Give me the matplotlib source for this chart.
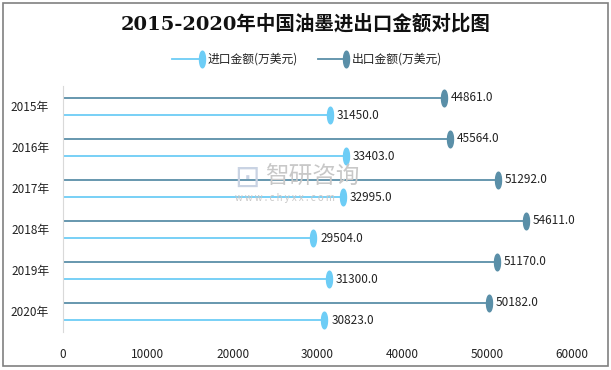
import numpy as np
import matplotlib
matplotlib.use("Agg")
import matplotlib.pyplot as plt
from matplotlib.path import Path
from matplotlib.patches import Rectangle

plt.rcParams['font.family'] = ['Noto Sans CJK SC', 'DejaVu Sans']

years = ['2015年', '2016年', '2017年', '2018年', '2019年', '2020年']
export_vals = [44861.0, 45564.0, 51292.0, 54611.0, 51170.0, 50182.0]
import_vals = [31450.0, 33403.0, 32995.0, 29504.0, 31300.0, 30823.0]

c_import = '#6dcdf6'
c_export = '#5a8fa8'

# vertical ellipse marker
t = np.linspace(0, 2 * np.pi, 40)
ellipse = Path(np.column_stack([0.36 * np.cos(t), np.sin(t)]), closed=True)

fig = plt.figure(figsize=(6.11, 3.70), dpi=100)
ax = fig.add_axes([63 / 611, 1 - 331.5 / 370, (572 - 63) / 611, (331.5 - 85.5) / 370])

y = np.arange(len(years))
y_exp = y - 0.2
y_imp = y + 0.22

for yi, v in zip(y_exp, export_vals):
    ax.plot([0, v], [yi, yi], color=c_export, lw=1.3, zorder=2)
    ax.plot(v, yi, marker=ellipse, ms=12, color=c_export, zorder=3)
    ax.text(v + 800, yi, f'{v:.1f}', va='center', ha='left', fontsize=8.5, color='#222222')
for yi, v in zip(y_imp, import_vals):
    ax.plot([0, v], [yi, yi], color=c_import, lw=1.3, zorder=2)
    ax.plot(v, yi, marker=ellipse, ms=12, color=c_import, zorder=3)
    ax.text(v + 800, yi, f'{v:.1f}', va='center', ha='left', fontsize=8.5, color='#222222')

ax.set_xlim(0, 60000)
ax.set_ylim(5.5, -0.5)
ax.set_xticks(np.arange(0, 60001, 10000))
ax.set_yticks(y)
ax.set_yticklabels(years)
ax.tick_params(axis='both', length=0, labelsize=8.5, colors='#222222')
ax.tick_params(axis='x', pad=12)
ax.tick_params(axis='y', pad=10)
for s in ['top', 'right', 'bottom']:
    ax.spines[s].set_visible(False)
ax.spines['left'].set_color('#d9d9d9')

# legend
lx = 172 / 611
ly = 1 - 59 / 370
fig.lines.append(plt.Line2D([lx, lx + 30 / 611], [ly, ly], color=c_import, lw=1.3, transform=fig.transFigure))
fig.lines.append(plt.Line2D([lx + 30 / 611], [ly], marker=ellipse, ms=12, color=c_import, transform=fig.transFigure))
fig.text(lx + 36 / 611, ly, '进口金额(万美元)', fontsize=8.5, va='center', color='#222222')
lx2 = 318 / 611
fig.lines.append(plt.Line2D([lx2, lx2 + 28 / 611], [ly, ly], color=c_export, lw=1.3, transform=fig.transFigure))
fig.lines.append(plt.Line2D([lx2 + 28 / 611], [ly], marker=ellipse, ms=12, color=c_export, transform=fig.transFigure))
fig.text(lx2 + 34 / 611, ly, '出口金额(万美元)', fontsize=8.5, va='center', color='#222222')

fig.text(0.5, 1 - 24 / 370, '2015-2020年中国油墨进出口金额对比图', ha='center', va='center',
         fontsize=14, fontweight='bold', color='#111111',
         family=['DejaVu Serif', 'Noto Sans CJK SC'])

# watermark
fig.text(234 / 611, 1 - 178 / 370, '⊡', fontsize=22, color='#c9d3e3', va='center', ha='left',
         family=['DejaVu Sans'])
fig.text(265 / 611, 1 - 177 / 370, '智研咨询', fontsize=17, color='#c8c8c8', va='center', ha='left')
fig.text(235 / 611, 1 - 198 / 370, 'w w w . c h y x x . c o m', fontsize=7, color='#c8c8c8',
         va='center', ha='left')

# outer border
fig.patches.append(Rectangle((3 / 611, 4 / 370), 605 / 611, 363 / 370, transform=fig.transFigure,
                             fill=False, edgecolor='#808080', lw=1.2))

fig.savefig('out.png', dpi=100)
